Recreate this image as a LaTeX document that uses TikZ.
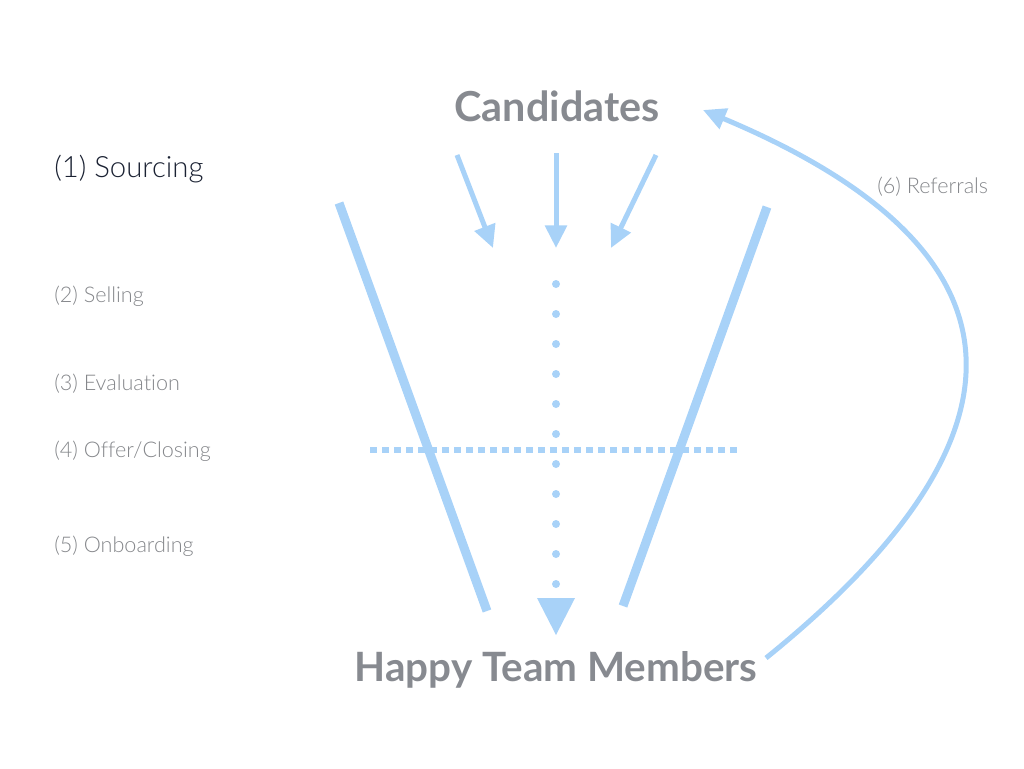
\documentclass[tikz,border=0pt]{standalone}
\usepackage{fontspec}
\setmainfont{Lato}
\newfontfamily\titlefont{Lato}[UprightFont=* Bold]
\newfontfamily\lightfont{Lato}[UprightFont=* Light, RawFeature=-liga]
\usetikzlibrary{arrows.meta}
\definecolor{fblue}{HTML}{A8D2F8}
\definecolor{tgray}{HTML}{878A90}
\definecolor{lgray}{HTML}{85878B}
\definecolor{dark}{HTML}{1B2233}
\tikzset{
  title/.style={font=\titlefont\fontsize{31}{36}\selectfont, text=tgray, inner sep=0pt},
  stage/.style={font=\lightfont\fontsize{16.2}{19}\selectfont, text=lgray, anchor=base west, inner sep=0pt},
  wall/.style={draw=fblue, line width=6.75pt},
  feed/.style={draw=fblue, line width=3.75pt, -{Triangle[length=17pt,width=16pt]}},
}
\begin{document}
\begin{tikzpicture}[x=0.75pt,y=-0.75pt]
\useasboundingbox (0,0) rectangle (1024,768);
% titles
\node[title, anchor=base] (cand) at (557,121) {Candidates};
\node[title, anchor=base, font=\titlefont\fontsize{30.3}{36}\selectfont] (happy) at (556,681) {Happy Team Members};
% stage labels
\node[stage, font=\lightfont\fontsize{22}{26}\selectfont, text=dark] (s1) at (54,177) {(1) Sourcing};
\node[stage] (s2) at (54,302) {(2) Selling};
\node[stage] (s3) at (54,390) {(3) Evaluation};
\node[stage] (s4) at (54,457) {(4) Offer/Closing};
\node[stage] (s5) at (54,552) {(5) Onboarding};
\node[stage] (s6) at (877,193) {(6) Referrals};
% funnel walls
\coordinate (lwTop) at (339,203);
\coordinate (lwBot) at (487,611);
\coordinate (rwTop) at (767,207);
\coordinate (rwBot) at (623,606);
\draw[wall] (lwTop) -- (lwBot);
\draw[wall] (rwTop) -- (rwBot);
% incoming arrows
\coordinate (a1s) at (457,155); \coordinate (a1e) at (493,248);
\coordinate (a2s) at (556,153); \coordinate (a2e) at (556,248);
\coordinate (a3s) at (656,155); \coordinate (a3e) at (611,248);
\draw[feed] (a1s) -- (a1e);
\draw[feed] (a2s) -- (a2e);
\draw[feed] (a3s) -- (a3e);
% dotted flow
\coordinate (dTop) at (556,284);
\coordinate (dBot) at (556,586);
\draw[fblue, line width=6pt, line cap=round, dash pattern=on 0pt off 22.5pt] (dTop) -- (dBot);
\coordinate (hTip) at (556,635);
\fill[fblue] (537,598) -- (575,598) -- (hTip) -- cycle;
% offer line
\coordinate (oL) at (370,450);
\coordinate (oR) at (738,450);
\draw[fblue, line width=4.5pt, dash pattern=on 5.25pt off 3.75pt] (oL) -- (oR);
% referrals curve
\coordinate (rS) at (766,658);
\coordinate (rE) at (703,110);
\draw[fblue, line width=3.75pt, -{Triangle[length=17pt,width=16pt]}] (rS) .. controls (1005,465) and (1075,266) .. (rE);
\end{tikzpicture}
\end{document}
